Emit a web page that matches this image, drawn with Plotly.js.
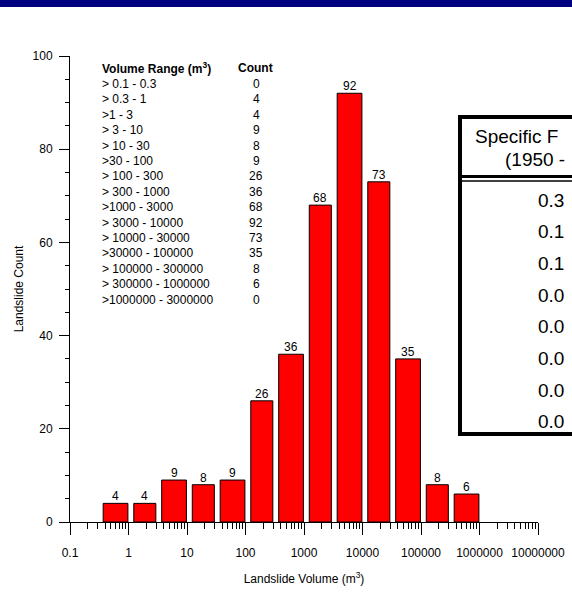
<!DOCTYPE html>
<html>
<head>
<meta charset="utf-8">
<script src="https://cdn.plot.ly/plotly-3.0.1.min.js"></script>
<style>
html,body{margin:0;padding:0;background:#fff;}
#chart{width:572px;height:597px;}
</style>
</head>
<body>
<div id="chart"></div>
<script>
// ---- data ----
const binLo = [0.1, 0.3, 1, 3, 10, 30, 100, 300, 1000, 3000, 10000, 30000, 100000, 300000, 1000000];
const binHi = [0.3, 1, 3, 10, 30, 100, 300, 1000, 3000, 10000, 30000, 100000, 300000, 1000000, 3000000];
const counts = [0, 4, 4, 9, 8, 9, 26, 36, 68, 92, 73, 35, 8, 6, 0];
const rangeLabels = ["> 0.1 - 0.3", "> 0.3 - 1", ">1 - 3", "> 3 - 10", "> 10 - 30", ">30 - 100",
  "> 100 - 300", "> 300 - 1000", ">1000 - 3000", "> 3000 - 10000", "> 10000 - 30000",
  ">30000 - 100000", "> 100000 - 300000", "> 300000 - 1000000", ">1000000 - 3000000"];
const xTickVals = [0.1, 1, 10, 100, 1000, 10000, 100000, 1000000, 10000000];
const xTickText = ["0.1", "1", "10", "100", "1000", "10000", "100000", "1000000", "10000000"];
const freqHeader = ["Specific F", "(1950 -"];
const freqValues = ["0.3", "0.1", "0.1", "0.0", "0.0", "0.0", "0.0", "0.0"];

// ---- layout helpers (pixel -> paper) ----
const W = 572, H = 597, ML = 70, MR = 34, MT = 56, MB = 75;
const PW = W - ML - MR, PH = H - MT - MB;
const px = x => (x - ML) / PW;
const py = y => (H - MB - y) / PH;
const FONT = "Arial, 'Liberation Sans', sans-serif";

const GAP = 0.09;
const lg = Math.log10;
const minorVals = [];
for (let d = -1; d < 7; d++) for (let k = 2; k <= 9; k++) minorVals.push(lg(k * Math.pow(10, d)));

const barWidths = binLo.map((lo, i) => lg(binHi[i]) - lg(lo) - GAP - 0.01);

const trace = {
  type: 'bar',
  x: binLo.map(lg),
  y: counts,
  offset: GAP,
  width: barWidths,
  marker: {color: '#FF0000', line: {color: '#000000', width: counts.map(c => c > 0 ? 1 : 0)}},
  cliponaxis: false,
  hoverinfo: 'x+y'
};

const annotations = [];
// bar value labels
counts.forEach((c, i) => {
  if (c <= 0) return;
  annotations.push({xref: 'x', yref: 'y', x: lg(binLo[i]) + GAP + barWidths[i] / 2, y: c,
    xanchor: 'center', yanchor: 'bottom', yshift: -2, text: String(c), showarrow: false,
    font: {family: FONT, size: 12, color: '#000'}});
});
annotations.push({xref: 'paper', yref: 'paper', x: px(100), y: py(68), xanchor: 'left', yanchor: 'middle',
  text: '<b>Volume Range (m<sup>3</sup>)</b>', showarrow: false, font: {family: FONT, size: 12, color: '#000'}});
annotations.push({xref: 'paper', yref: 'paper', x: px(255), y: py(68), xanchor: 'center', yanchor: 'middle',
  text: '<b>Count</b>', showarrow: false, font: {family: FONT, size: 12, color: '#000'}});
rangeLabels.forEach((lab, i) => {
  const yy = 84 + 15.4 * i;
  annotations.push({xref: 'paper', yref: 'paper', x: px(100), y: py(yy), xanchor: 'left', yanchor: 'middle',
    text: lab, showarrow: false, font: {family: FONT, size: 12, color: '#000'}});
  annotations.push({xref: 'paper', yref: 'paper', x: px(256), y: py(yy), xanchor: 'center', yanchor: 'middle',
    text: String(counts[i]), showarrow: false, font: {family: FONT, size: 12, color: '#000'}});
});
annotations.push({xref: 'paper', yref: 'paper', x: px(473), y: py(136), xanchor: 'left', yanchor: 'middle',
  text: freqHeader[0], showarrow: false, font: {family: FONT, size: 19, color: '#000'}});
annotations.push({xref: 'paper', yref: 'paper', x: px(503), y: py(159), xanchor: 'left', yanchor: 'middle',
  text: freqHeader[1], showarrow: false, font: {family: FONT, size: 19, color: '#000'}});
freqValues.forEach((v, i) => {
  annotations.push({xref: 'paper', yref: 'paper', x: px(536), y: py(200 + 31.7 * i), xanchor: 'left', yanchor: 'middle',
    text: v, showarrow: false, font: {family: FONT, size: 19, color: '#000'}});
});

const shapes = [
  // top navy band
  {type: 'rect', xref: 'paper', yref: 'paper', x0: px(-5), x1: px(W + 5), y0: py(0) + 0.01, y1: py(7),
    fillcolor: '#000080', line: {width: 0}, layer: 'above'},
  // frequency table box
  {type: 'rect', xref: 'paper', yref: 'paper', x0: px(460), x1: px(W + 20), y0: py(117), y1: py(434),
    fillcolor: 'rgba(255,255,255,0)', line: {color: '#000', width: 4}},
  {type: 'line', xref: 'paper', yref: 'paper', x0: px(460), x1: px(W + 20), y0: py(176.5), y1: py(176.5),
    line: {color: '#000', width: 3}},
  {type: 'line', xref: 'paper', yref: 'paper', x0: px(460), x1: px(W + 20), y0: py(181), y1: py(181),
    line: {color: '#000', width: 1.5}}
];

const layout = {
  width: W, height: H,
  margin: {l: ML, r: MR, t: MT, b: MB, pad: 0},
  paper_bgcolor: '#fff', plot_bgcolor: '#fff',
  showlegend: false,
  font: {family: FONT, size: 12, color: '#000'},
  bargap: 0,
  xaxis: {
    type: 'linear', range: [-1, 7], fixedrange: true,
    tickmode: 'array', tickvals: xTickVals.map(lg), ticktext: xTickText,
    ticks: 'outside', ticklen: 12, tickwidth: 1, tickcolor: '#000',
    showline: true, linecolor: '#000', linewidth: 1, mirror: false,
    showgrid: false, zeroline: false,
    tickfont: {family: FONT, size: 12, color: '#000'},
    ticklabelstandoff: 8,
    minor: {tickmode: 'array', tickvals: minorVals, ticks: 'outside', ticklen: 6, tickwidth: 1, tickcolor: '#000', showgrid: false},
    title: {text: 'Landslide Volume (m<sup>3</sup>)', font: {family: FONT, size: 12, color: '#000'}, standoff: 15}
  },
  yaxis: {
    range: [0, 100], fixedrange: true,
    tickmode: 'linear', tick0: 0, dtick: 20,
    ticks: 'outside', ticklen: 10, tickwidth: 1, tickcolor: '#000',
    showline: true, linecolor: '#000', linewidth: 1,
    showgrid: false, zeroline: false,
    tickfont: {family: FONT, size: 12, color: '#000'},
    ticklabelstandoff: 4,
    minor: {tickmode: 'linear', tick0: 0, dtick: 5, ticks: 'outside', ticklen: 4, tickwidth: 1, tickcolor: '#000', showgrid: false},
    title: {text: 'Landslide Count', font: {family: FONT, size: 12, color: '#000'}, standoff: 6}
  },
  annotations: annotations,
  shapes: shapes
};

Plotly.newPlot('chart', [trace], layout, {displayModeBar: false, staticPlot: true});
</script>
</body>
</html>
